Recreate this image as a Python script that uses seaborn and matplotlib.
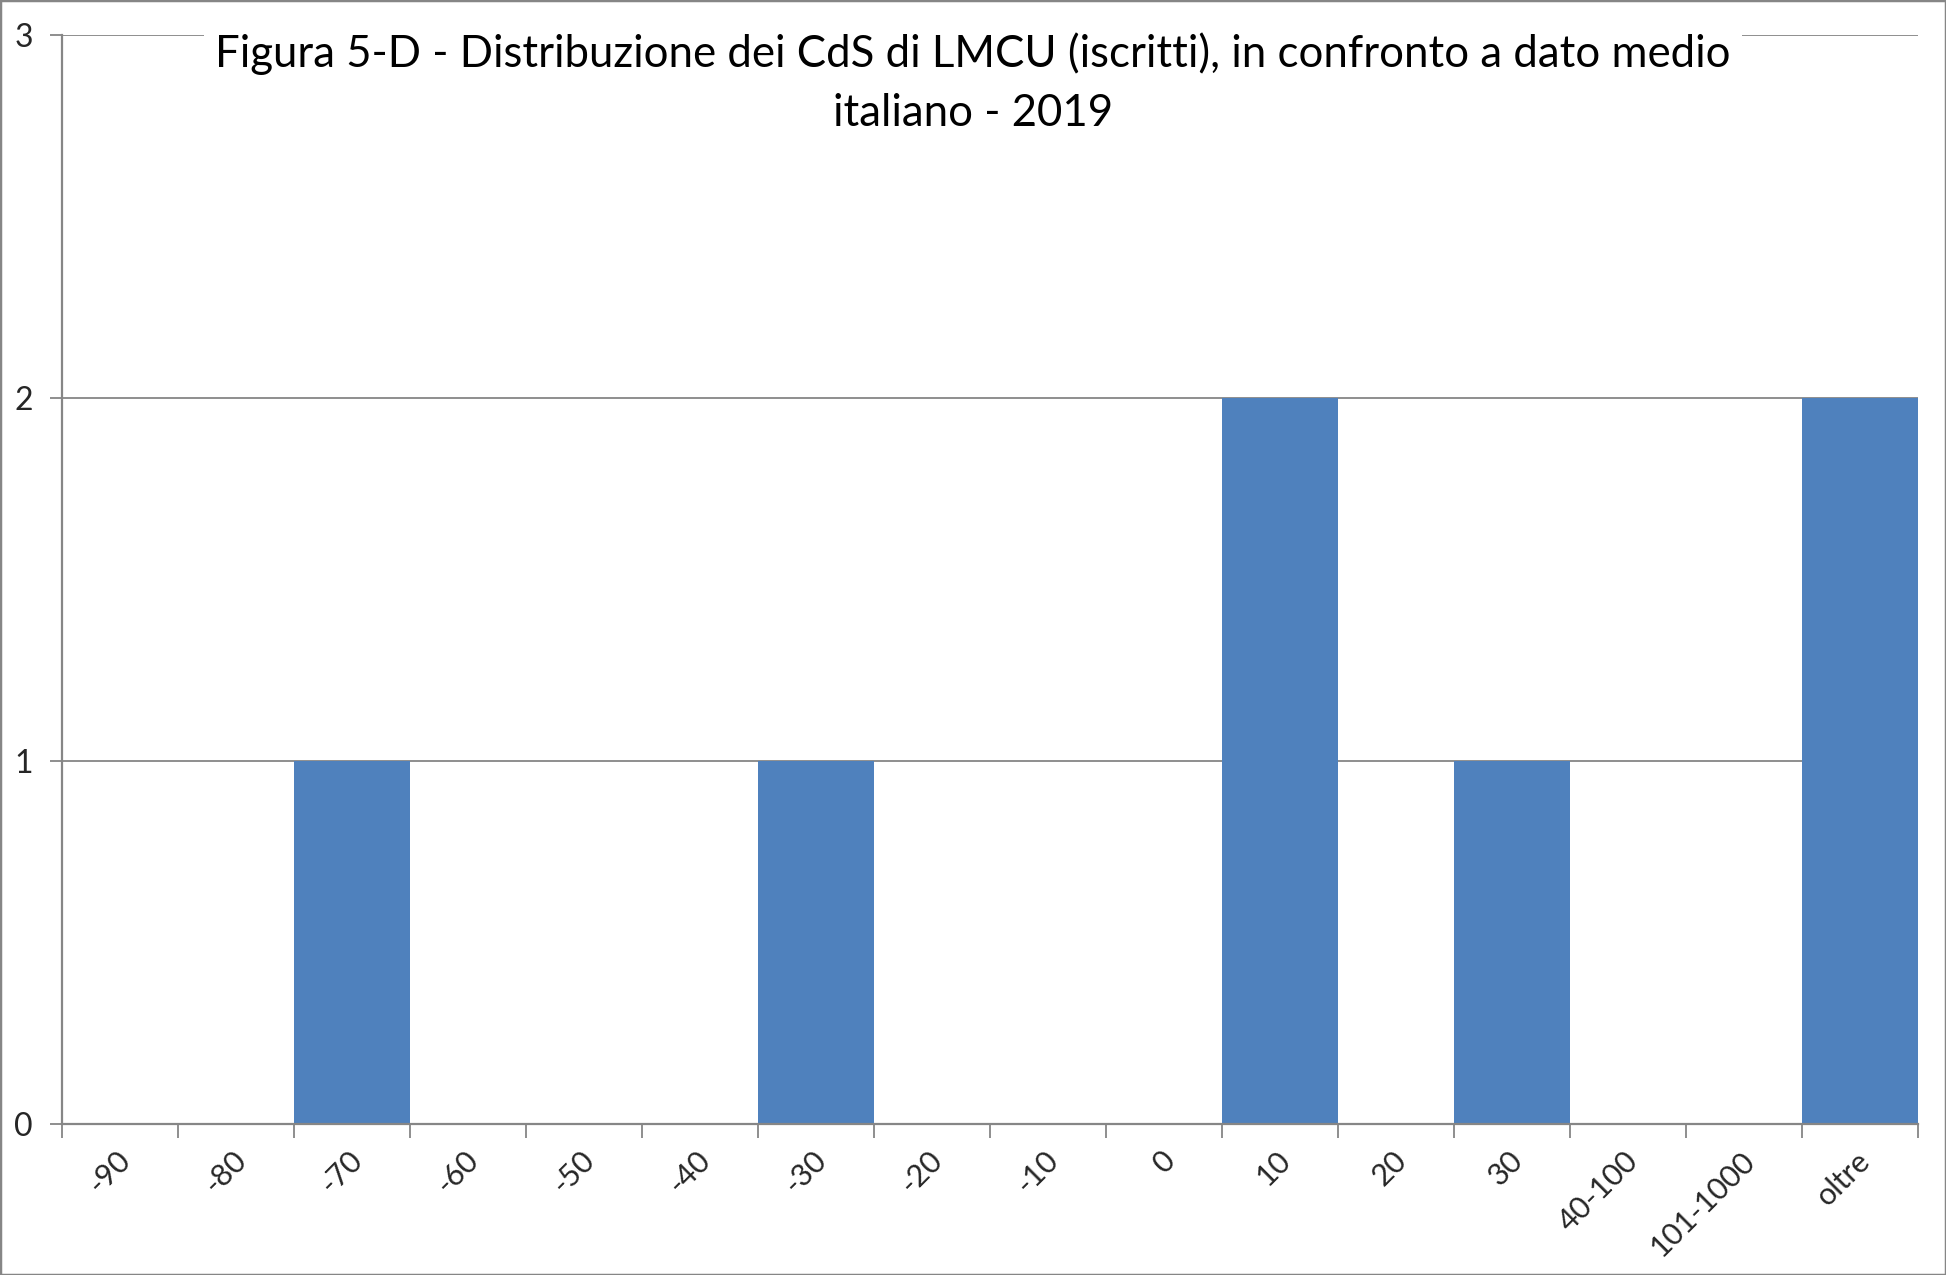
import matplotlib
matplotlib.use("Agg")
import matplotlib.pyplot as plt
import matplotlib.transforms as mtransforms
from matplotlib.patches import Rectangle
import seaborn as sns
import pandas as pd
import numpy as np

categories = ["-90", "-80", "-70", "-60", "-50", "-40", "-30", "-20", "-10", "0",
              "10", "20", "30", "40-100", "101-1000", "oltre"]
values = [0, 0, 1, 0, 0, 0, 1, 0, 0, 0, 2, 0, 1, 0, 0, 2]
yticks = [0, 1, 2, 3]
title = "Figura 5-D - Distribuzione dei CdS di LMCU (iscritti), in confronto a dato medio\nitaliano - 2019"

sns.set_theme(style="white")
plt.rcParams['font.family'] = ['Lato', 'DejaVu Sans']

W, H = 1946, 1275
fig = plt.figure(figsize=(W / 100, H / 100), dpi=100)
left, right, top, bottom = 62, 1918, 35, 1124
ax = fig.add_axes([left / W, 1 - bottom / H, (right - left) / W, (bottom - top) / H])

df = pd.DataFrame({"cat": categories, "val": values})
sns.barplot(data=df, x="cat", y="val", color="#4F81BD", saturation=1, width=1.0,
            ax=ax, zorder=3, edgecolor="none")

grid_c = "#868686"
ax.set_xlim(-0.5, len(categories) - 0.5)
ax.set_ylim(0, 3)
ax.set_yticks(yticks)
ax.set_yticklabels([str(v) for v in yticks], fontsize=23)
for y in yticks[1:]:
    ax.axhline(y, color=grid_c, lw=1.3, zorder=1)

for s in ["top", "right"]:
    ax.spines[s].set_visible(False)
for s in ["left", "bottom"]:
    ax.spines[s].set_color(grid_c)
    ax.spines[s].set_linewidth(1.6)
    ax.spines[s].set_zorder(4)

ax.set_xlabel("")
ax.set_ylabel("")

# major ticks at centers (labels), minor at boundaries (tick marks)
ax.set_xticks(range(len(categories)))
ax.set_xticklabels(categories, rotation=45, ha="right", va="center",
                   rotation_mode="anchor", fontsize=22)
ax.set_xticks(np.arange(-0.5, len(categories) + 0.5, 1), minor=True)
ax.tick_params(axis="x", which="major", length=0, pad=23)
ax.tick_params(axis="x", which="minor", length=10, width=1.3, color=grid_c, direction="out", bottom=True)
ax.tick_params(axis="y", which="major", length=9, width=1.3, color=grid_c, direction="out", left=True, pad=12)

offset = mtransforms.ScaledTranslation(6 / 100, 0, fig.dpi_scale_trans)
for lbl in ax.get_xticklabels():
    lbl.set_transform(lbl.get_transform() + offset)

fig.text(0.5, 1 - 83 / H, title, ha="center", va="center", fontsize=31.5,
         linespacing=1.55, color="black",
         bbox=dict(facecolor="white", edgecolor="none", pad=8), zorder=10)

fig.patches.append(Rectangle((0, 0), 1, 1, transform=fig.transFigure, fill=False,
                             edgecolor=grid_c, lw=2.5, zorder=20))

fig.savefig("out.png", dpi=100, facecolor="white")
